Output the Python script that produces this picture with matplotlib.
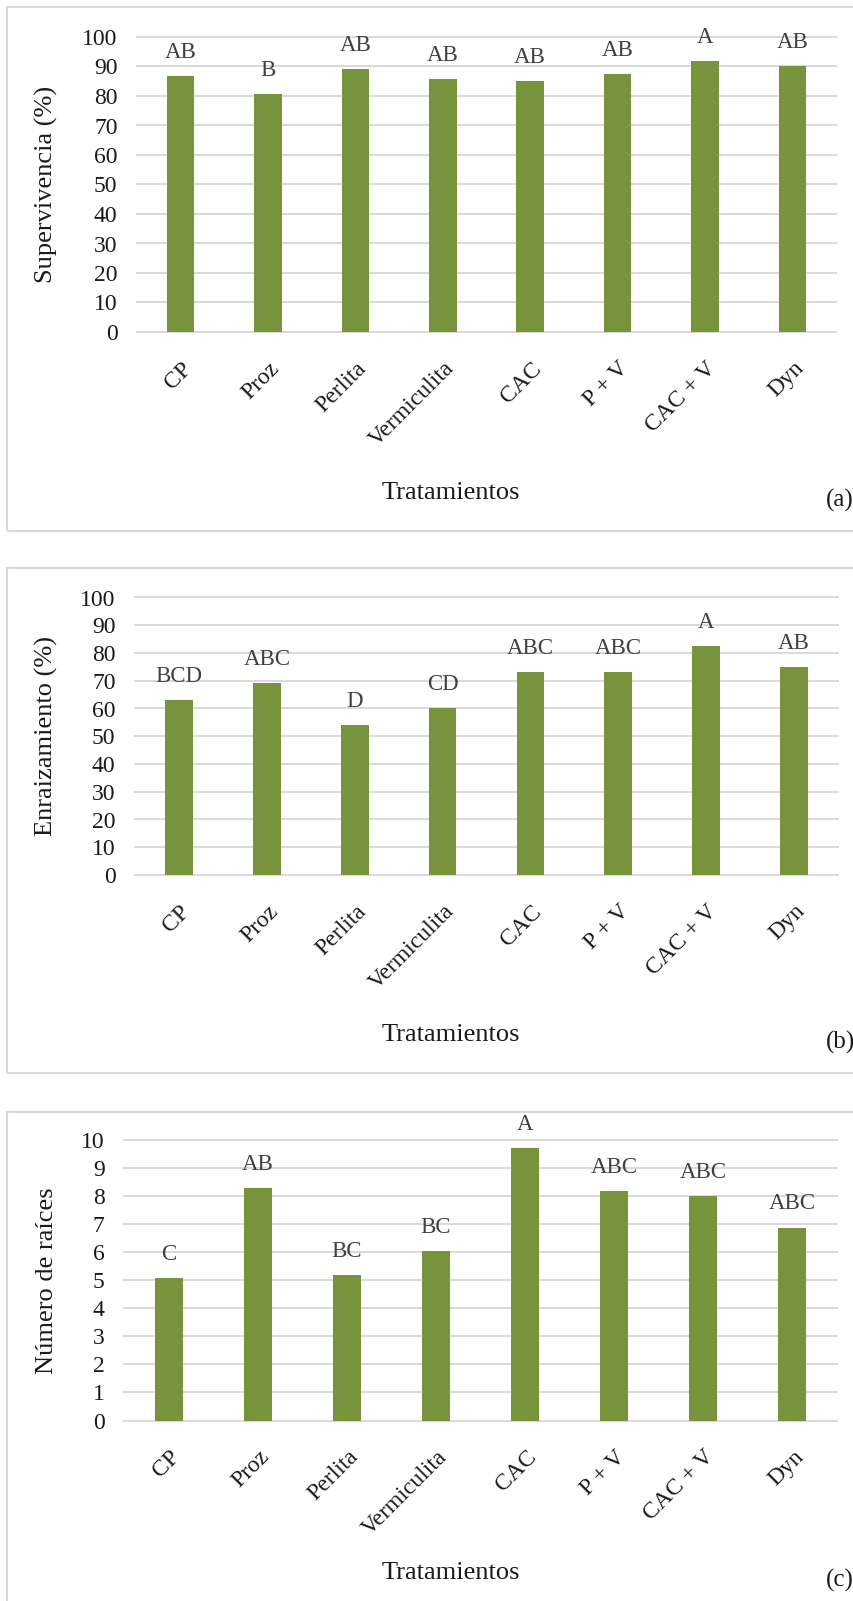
import matplotlib
matplotlib.use('Agg')
import matplotlib.pyplot as plt
from matplotlib.patches import Rectangle
from matplotlib.transforms import ScaledTranslation

# datos
tratamientos = ['CP', 'Proz', 'Perlita', 'Vermiculita', 'CAC', 'P + V', 'CAC + V', 'Dyn']
supervivencia = [86.7, 80.8, 89.2, 85.7, 85.0, 87.5, 91.7, 90.0]
letras_a = ['AB', 'B', 'AB', 'AB', 'AB', 'AB', 'A', 'AB']
enraizamiento = [63.0, 69.2, 54.0, 60.0, 73.1, 73.1, 82.4, 74.9]
letras_b = ['BCD', 'ABC', 'D', 'CD', 'ABC', 'ABC', 'A', 'AB']
raices = [5.08, 8.29, 5.18, 6.04, 9.7, 8.19, 8.0, 6.88]
letras_c = ['C', 'AB', 'BC', 'BC', 'A', 'ABC', 'ABC', 'ABC']

plt.rcParams['font.family'] = ['Liberation Serif', 'DejaVu Serif']

W, H = 854, 1601
fig = plt.figure(figsize=(W / 100, H / 100), dpi=100)

VERDE = '#77933C'
GRIS = '#D9D9D9'


def caja(top, bottom):
    fig.patches.append(Rectangle((7 / W, 1 - bottom / H), 900 / W, (bottom - top) / H,
                                 transform=fig.transFigure, fill=False,
                                 edgecolor=GRIS, lw=1.5, zorder=0))


def panel(l, r, t, b, valores, letras, ymax, paso, ylabel, tag, y_tit, y_tag):
    ax = fig.add_axes([l / W, 1 - b / H, (r - l) / W, (b - t) / H])
    x = range(len(tratamientos))
    ax.bar(x, valores, width=0.315, color=VERDE, zorder=3)
    for i, (v, s) in enumerate(zip(valores, letras)):
        ax.annotate(s, (i, v), xytext=(0, 17), textcoords='offset points',
                    ha='center', va='center', fontsize=16.5, color='#404040')
    ax.set_xlim(-0.5, len(tratamientos) - 0.5)
    ax.set_ylim(0, ymax)
    ax.set_yticks(range(0, ymax + 1, paso))
    ax.yaxis.grid(True, color=GRIS, lw=1.4, zorder=0)
    for g in ax.get_ygridlines():
        g.set_clip_on(False)
    for s in ax.spines.values():
        s.set_visible(False)
    ax.tick_params(axis='y', length=0, pad=14, labelsize=17, labelcolor='#1a1a1a')
    ax.tick_params(axis='x', length=0, pad=24, labelsize=17, labelcolor='#1a1a1a')
    ax.set_xticks(list(x))
    ax.set_xticklabels(tratamientos, rotation=45, ha='right', va='center',
                       rotation_mode='anchor')
    off = ScaledTranslation(0.08, 0, fig.dpi_scale_trans)
    for lab in ax.get_xticklabels():
        lab.set_transform(lab.get_transform() + off)
    ax.set_ylabel(ylabel, fontsize=19, color='#1a1a1a')
    ax.yaxis.set_label_coords((58 - l) / (r - l), 0.5)
    fig.text(451 / W, 1 - y_tit / H, 'Tratamientos', ha='center', va='center',
             fontsize=19, color='#1a1a1a')
    fig.text(826 / W, 1 - y_tag / H, tag, ha='left', va='center',
             fontsize=18, color='#1a1a1a')
    return ax


caja(7, 531)
caja(568, 1073)
caja(1112, 1700)

panel(137, 836, 37, 332, supervivencia, letras_a, 100, 10,
      'Supervivencia (%)', '(a)', 493, 500)
panel(135, 838, 597.5, 875, enraizamiento, letras_b, 100, 10,
      'Enraizamiento (%)', '(b)', 1035, 1042)
panel(124, 837, 1140, 1420.5, raices, letras_c, 10, 1,
      'Número de raíces', '(c)', 1573, 1580)

fig.savefig('out.png', dpi=100)
